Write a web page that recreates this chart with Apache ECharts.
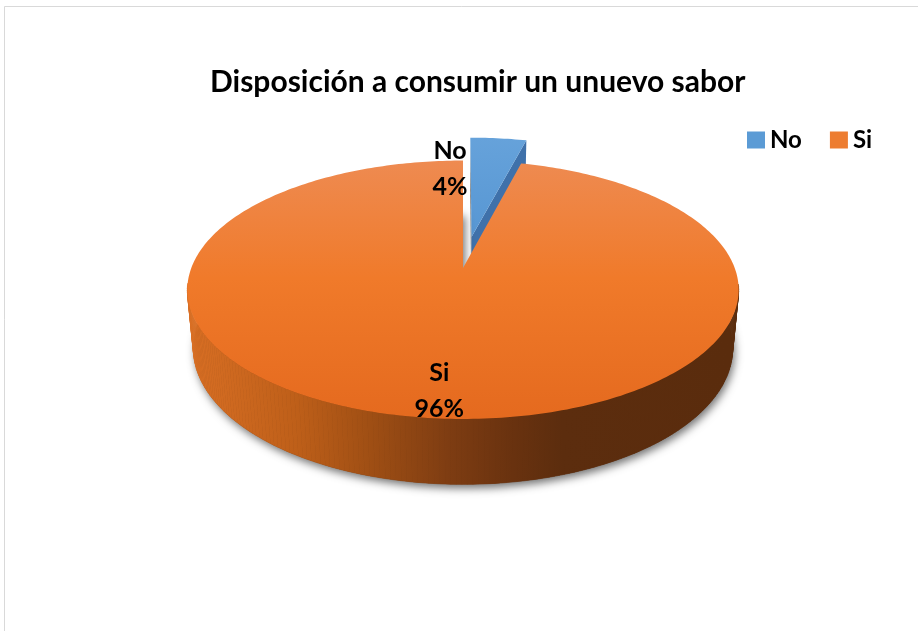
<!DOCTYPE html>
<html>
<head>
<meta charset="utf-8">
<script src="https://cdn.jsdelivr.net/npm/echarts@6/dist/echarts.min.js"></script>
<style>
  html, body { margin: 0; padding: 0; background: #ffffff; }
  #chart { width: 918px; height: 631px; }
</style>
</head>
<body>
<div id="chart"></div>
<script>
// Survey answers
const categories = ['No', 'Si'];
const values = [4, 96];

// Look of each slice
const sliceColors = ['#5b9bd5', '#ed7d31'];
const explodeBy = [0.26, 0];          // outward pull of a slice, in disc radii
const FONT = 'Lato, "Open Sans", "DejaVu Sans", sans-serif';

// Perspective camera looking down at a flat disc (radius 1, thickness VIEW.depth)
const VIEW = { cx: 463, cy: 268, focal: 1432, dist: 5.27, sinT: 0.462, depth: 0.245 };
VIEW.cosT = Math.sqrt(1 - VIEW.sinT * VIEW.sinT);

function project(X, Y, Z) {
  const yv = Y * VIEW.cosT + Z * VIEW.sinT;
  const zv = -Y * VIEW.sinT + Z * VIEW.cosT;
  const s = VIEW.focal / (VIEW.dist + zv);
  return [VIEW.cx + X * s, VIEW.cy - yv * s];
}

// Angles of every slice, clockwise from 12 o'clock
const total = values.reduce((a, b) => a + b, 0);
const startAngle = [];
const sweep = [];
{
  let acc = 0;
  values.forEach((v) => {
    startAngle.push(acc);
    sweep.push(v / total * Math.PI * 2);
    acc += v / total * Math.PI * 2;
  });
}

const sideGradient = {
  type: 'linear', global: true, x: 186, y: 0, x2: 740, y2: 0,
  colorStops: [
    { offset: 0, color: '#d96f24' },
    { offset: 0.2, color: '#be5f19' },
    { offset: 0.33, color: '#a04f14' },
    { offset: 0.48, color: '#7d3c12' },
    { offset: 0.59, color: '#69320f' },
    { offset: 0.68, color: '#5c2d0e' },
    { offset: 1, color: '#5a2c0d' }
  ]
};
const topGradients = [
  { type: 'linear', global: true, x: 0, y: 130, x2: 0, y2: 250,
    colorStops: [{ offset: 0, color: '#67a3db' }, { offset: 1, color: '#5595d2' }] },
  { type: 'linear', global: true, x: 0, y: 158, x2: 0, y2: 425,
    colorStops: [{ offset: 0, color: '#ee8b52' }, { offset: 0.45, color: '#f07a2a' }, { offset: 1, color: '#e4691e' }] }
];
const radialFaceColors = [['#6e6e6e', '#3f71aa'], ['#8a4414', '#8a4414']];

function renderSlice(i) {
  return function () {
    const a0 = startAngle[i], a1 = a0 + sweep[i];
    const mid = (a0 + a1) / 2;
    const ex = explodeBy[i] * Math.sin(mid), ez = explodeBy[i] * Math.cos(mid);
    const P = (r, th, Y) => project(ex + r * Math.sin(th), Y, ez + r * Math.cos(th));
    const T = -VIEW.depth;
    const n = Math.max(6, Math.ceil((a1 - a0) / (Math.PI / 180)));
    const arc = (Y) => {
      const pts = [];
      for (let k = 0; k <= n; k++) pts.push(P(1, a0 + (a1 - a0) * k / n, Y));
      return pts;
    };
    const children = [];
    const big = sweep[i] > Math.PI;

    if (big) {
      // soft drop shadow under the disc
      children.push({
        type: 'polygon',
        shape: { points: [P(0, a0, T)].concat(arc(T)) },
        style: { fill: '#5a2c0d', shadowBlur: 9, shadowColor: 'rgba(0,0,0,0.55)', shadowOffsetX: 2, shadowOffsetY: 4 }
      });
    }

    // cut faces of the slice
    if (!big) {
      children.push({ type: 'polygon', shape: { points: [P(0, a0, 0), P(1, a0, 0), P(1, a0, T), P(0, a0, T)] },
        style: { fill: radialFaceColors[i][0] } });
      children.push({ type: 'polygon', shape: { points: [P(0, a1, 0), P(1, a1, 0), P(1, a1, T), P(0, a1, T)] },
        style: { fill: radialFaceColors[i][1] } });
    }

    // outer rim, only the part turned toward the viewer
    for (let k = 0; k < n; k++) {
      const t0 = a0 + (a1 - a0) * k / n, t1 = a0 + (a1 - a0) * (k + 1) / n;
      const tm = (t0 + t1) / 2;
      if (Math.cos(tm) > -0.12) continue;
      children.push({
        type: 'polygon',
        shape: { points: [P(1, t0, 0), P(1, t1, 0), P(1, t1, T), P(1, t0, T)] },
        style: { fill: sideGradient, stroke: sideGradient, lineWidth: 0.6 }
      });
    }

    // top face
    children.push({
      type: 'polygon',
      shape: { points: [P(0, a0, 0)].concat(arc(0)) },
      style: { fill: topGradients[i] }
    });

    // data label, kept above every slice
    const pct = Math.round(values[i] / total * 100) + '%';
    let lx, ly;
    if (big) {
      const p = P(0.85, mid, 0);
      lx = p[0] + 10; ly = p[1];
    } else {
      const p = project(Math.sin(a0), 0, Math.cos(a0));
      lx = p[0] - 13; ly = p[1] + 8;
    }
    children.push({
      type: 'text', x: lx, y: ly, z2: 100,
      style: {
        text: categories[i] + '\n' + pct,
        fill: '#000000', fontSize: 25, fontWeight: 'bold', fontFamily: FONT,
        lineHeight: 36, align: 'center', verticalAlign: 'middle'
      }
    });

    return { type: 'group', children };
  };
}

const chart = echarts.init(document.getElementById('chart'), null, { renderer: 'canvas' });
chart.setOption({
  animation: false,
  backgroundColor: '#ffffff',
  color: sliceColors,
  title: {
    text: 'Disposición a consumir un unuevo sabor',
    left: 205, top: 62,
    textStyle: { fontSize: 30, fontWeight: 'bold', fontFamily: FONT, color: '#000000' }
  },
  legend: {
    left: 742, top: 123,
    itemWidth: 18, itemHeight: 17, itemGap: 28,
    icon: 'rect',
    data: categories,
    selectedMode: false,
    textStyle: { fontSize: 24, fontWeight: 'bold', fontFamily: FONT, color: '#000000' }
  },
  graphic: [{
    type: 'rect', silent: true,
    shape: { x: 4.5, y: 6.5, width: 1000, height: 1000 },
    style: { fill: 'none', stroke: '#d9d9d9', lineWidth: 1 }
  }],
  series: categories.map((name, i) => ({
    type: 'custom',
    name,
    coordinateSystem: 'none',
    silent: true,
    itemStyle: { color: sliceColors[i] },
    data: [values[i]],
    renderItem: renderSlice(i)
  }))
});
</script>
</body>
</html>
